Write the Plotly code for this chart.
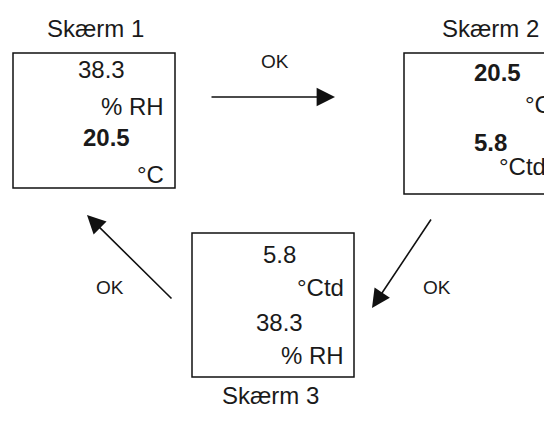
import plotly.graph_objects as go

screen_titles = ["Skærm 1", "Skærm 2", "Skærm 3"]
screen_values = [["38.3", "20.5"], ["20.5", "5.8"], ["5.8", "38.3"]]
screen_units = [["% RH", "°C"], ["°C", "°Ctd"], ["°Ctd", "% RH"]]
screen_bold = [[False, True], [True, True], [False, False]]
arrow_labels = ["OK", "OK", "OK"]

FONT = "Liberation Sans, Arial, sans-serif"
TXT = "#1a1a1a"
W, H = 544, 427

# geometry (pixels, y down)
boxes = [(13, 53, 175, 188), (404, 53, 560, 194), (192, 233, 354, 377)]
title_pos = [(95, 28), (490, 28), (270, 395)]
value_pos = [[(101, 69), (106, 137)], [(497, 72), (490, 142)], [(279, 254), (279, 322)]]
unit_pos = [[(166, 106, "right"), (166, 174, "right")],
            [(523, 104, "left"), (497, 166, "left")],
            [(346, 287, "right"), (346, 355, "right")]]
arrows = [((210, 97), (335, 97)), ((432, 218), (372, 308)), ((173, 300), (87, 215))]
arrow_label_pos = [(275, 61), (437, 287), (110, 287)]

fig = go.Figure()
shapes = []
annotations = []
for i in range(3):
    x0, y0, x1, y1 = boxes[i]
    shapes.append(dict(type="rect", xref="x", yref="y", x0=x0, y0=y0, x1=x1, y1=y1,
                       line=dict(color="#111", width=1.5), fillcolor="rgba(0,0,0,0)"))
    tx, ty = title_pos[i]
    annotations.append(dict(x=tx, y=ty, text=screen_titles[i], showarrow=False,
                            font=dict(family=FONT, size=24, color=TXT), xanchor="center", yanchor="middle"))
    for j in range(2):
        vx, vy = value_pos[i][j]
        t = screen_values[i][j]
        if screen_bold[i][j]:
            t = "<b>" + t + "</b>"
        annotations.append(dict(x=vx, y=vy, text=t, showarrow=False,
                                font=dict(family=FONT, size=24, color=TXT), xanchor="center", yanchor="middle"))
        ux, uy, ua = unit_pos[i][j]
        annotations.append(dict(x=ux, y=uy, text=screen_units[i][j], showarrow=False,
                                font=dict(family=FONT, size=24, color=TXT), xanchor=ua, yanchor="middle"))

for k in range(3):
    (sx, sy), (ex, ey) = arrows[k]
    annotations.append(dict(x=ex, y=ey, ax=sx, ay=sy, xref="x", yref="y", axref="x", ayref="y",
                            text="", showarrow=True, arrowhead=2, arrowsize=2.3, arrowwidth=1.6,
                            arrowcolor="#111", standoff=0, startstandoff=0))
    lx, ly = arrow_label_pos[k]
    annotations.append(dict(x=lx, y=ly, text=arrow_labels[k], showarrow=False,
                            font=dict(family=FONT, size=19, color=TXT), xanchor="center", yanchor="middle"))

fig.update_layout(
    width=W, height=H, margin=dict(l=0, r=0, t=0, b=0),
    paper_bgcolor="white", plot_bgcolor="white",
    xaxis=dict(range=[0, W], visible=False, fixedrange=True),
    yaxis=dict(range=[H, 0], visible=False, fixedrange=True),
    shapes=shapes, annotations=annotations, showlegend=False,
)
fig.write_html("out.html", config={"displayModeBar": False},
               post_script="document.body.style.margin='0';document.body.style.overflow='hidden';")
